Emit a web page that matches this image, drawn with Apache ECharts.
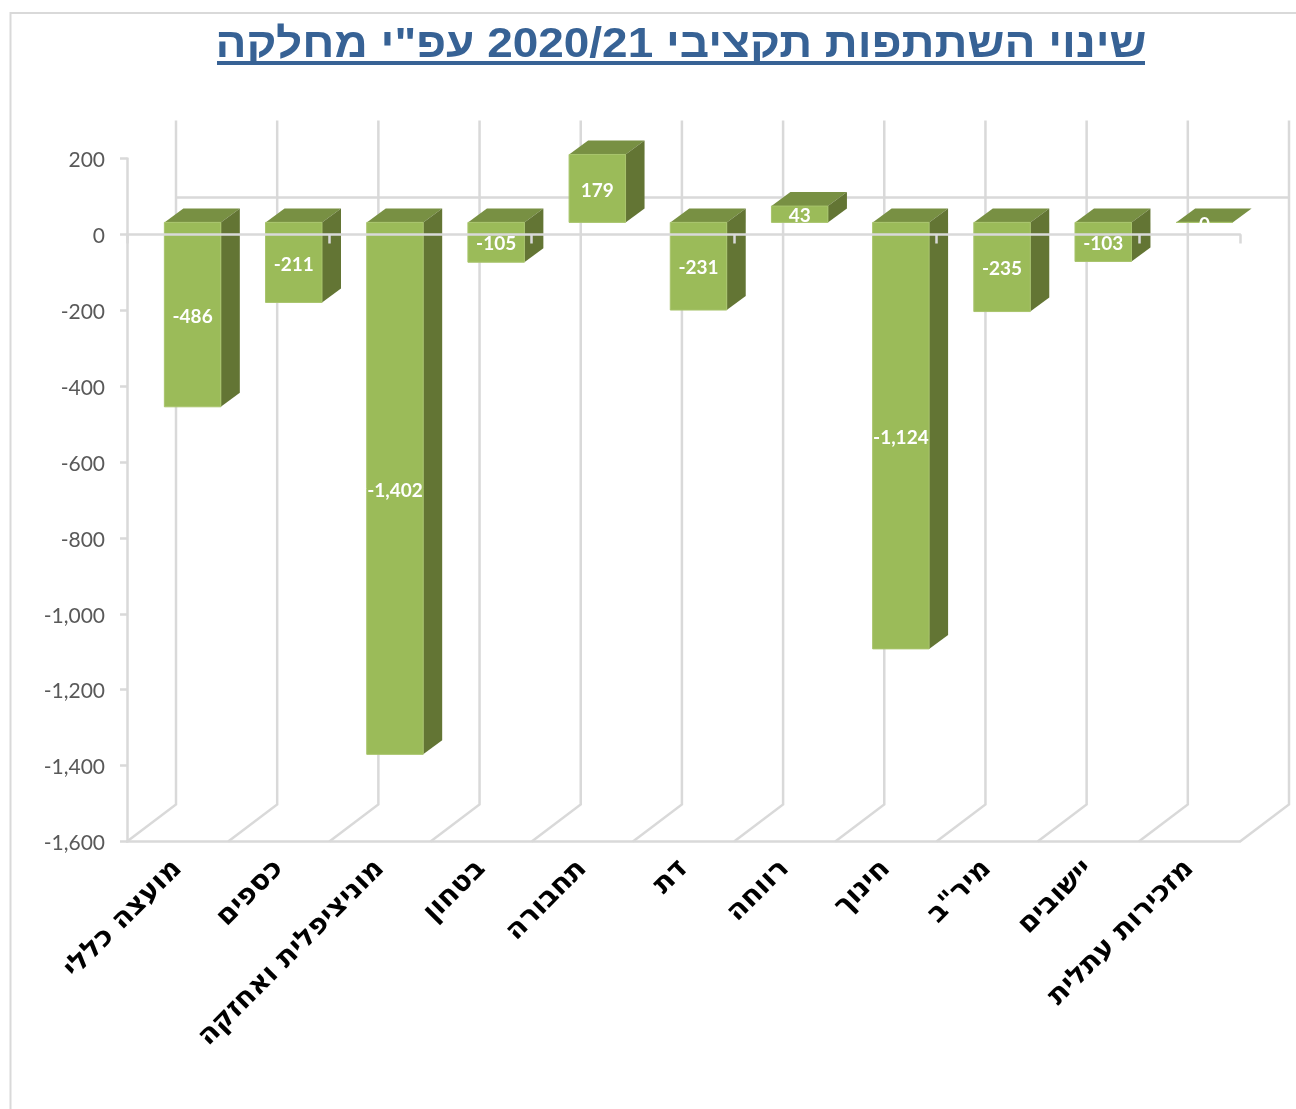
<!DOCTYPE html>
<html>
<head>
<meta charset="utf-8">
<title>chart</title>
<script src="https://cdn.jsdelivr.net/npm/echarts@6/dist/echarts.min.js"></script>
<style>
  html, body { margin: 0; background: #fff; overflow: hidden; }
  #main { width: 1296px; height: 1109px; }
</style>
</head>
<body>
<div id="main"></div>
<script>
const titleText = 'שינוי השתתפות תקציבי 2020/21 עפ"י מחלקה';
const categories = ['מועצה כללי', 'כספים', 'מוניציפלית ואחזקה', 'בטחון', 'תחבורה', 'דת', 'רווחה', 'חינוך', 'מיר"ב', 'יישובים', 'מזכירות עתלית'];
const values = [-486, -211, -1402, -105, 179, -231, 43, -1124, -235, -103, 0];
const yTicks = { min: -1600, max: 200, interval: 200 };

const GRID_COLOR = '#D9D9D9';
const GRID_WIDTH = 2.5;
// depth of the fake 3d box, in px
const WALL_DX = 49, WALL_DY = -37;
const BAR_FRONT_DX = 15, BAR_FRONT_DY = -12;
const BAR_SIDE_DX = 19, BAR_SIDE_DY = -14;

function poly(points, fill) {
    return { type: 'polygon', shape: { points: points }, style: { fill: fill } };
}
function wallLine(x, yTop, yBottom) {
    return {
        type: 'polyline',
        shape: { points: [[x + WALL_DX, yTop + WALL_DY - 1], [x + WALL_DX, yBottom + WALL_DY], [x, yBottom]] },
        style: { stroke: GRID_COLOR, lineWidth: GRID_WIDTH, fill: null }
    };
}

function renderWall(params, api) {
    const i = api.value(0);
    const band = api.size([1, 0])[0];
    const yTop = api.coord([i, yTicks.max])[1];
    const yBottom = api.coord([i, yTicks.min])[1];
    const yZero = api.coord([i, 0])[1];
    const x = api.coord([i, 0])[0] - band / 2;
    const children = [wallLine(x, yTop, yBottom)];
    if (i === categories.length - 1) {
        children.push(wallLine(x + band, yTop, yBottom));
    }
    // floor line on the back wall at zero
    children.push({
        type: 'line',
        shape: { x1: x + WALL_DX, y1: yZero + WALL_DY, x2: x + band + WALL_DX, y2: yZero + WALL_DY },
        style: { stroke: GRID_COLOR, lineWidth: GRID_WIDTH }
    });
    return { type: 'group', children: children };
}

function renderBar(params, api) {
    const i = api.value(0);
    const v = api.value(1);
    const band = api.size([1, 0])[0];
    const w = band * 0.558;
    const cx = api.coord([i, 0])[0] + BAR_FRONT_DX;
    const yA = api.coord([i, Math.max(v, 0)])[1] + BAR_FRONT_DY;
    const yB = api.coord([i, Math.min(v, 0)])[1] + BAR_FRONT_DY;
    const x1 = cx - w / 2, x2 = cx + w / 2;
    const dx = BAR_SIDE_DX, dy = BAR_SIDE_DY;
    const front = poly([[x1, yA], [x2, yA], [x2, yB], [x1, yB]], '#9BBB59');
    front.style.stroke = '#A8C46C';
    front.style.lineWidth = 1;
    return {
        type: 'group',
        children: [
            poly([[x1, yA], [x2, yA], [x2 + dx, yA + dy], [x1 + dx, yA + dy]], '#789043'),
            poly([[x2, yA], [x2 + dx, yA + dy], [x2 + dx, yB + dy], [x2, yB]], '#637534'),
            front,
            {
                type: 'text',
                style: {
                    x: cx, y: (yA + yB) / 2 + 2,
                    text: v.toLocaleString('en-US'),
                    fill: '#fff',
                    font: 'bold 19px Lato',
                    align: 'center', verticalAlign: 'middle'
                }
            }
        ]
    };
}

const chart = echarts.init(document.getElementById('main'));
const points = values.map((v, i) => [i, v]);

chart.setOption({
    animation: false,
    backgroundColor: '#fff',
    graphic: [
        { type: 'rect', shape: { x: 10.5, y: 13, width: 1400, height: 1200 }, style: { fill: null, stroke: GRID_COLOR, lineWidth: 2 }, z: -1 },
        {
            type: 'text', x: 681, y: 45, scaleX: 1.093,
            style: {
                // embedding marks keep the number inside the hebrew run
                text: '\u202B' + titleText + '\u202C',
                font: 'bold 42px "Liberation Sans"', fill: '#376295',
                align: 'center', verticalAlign: 'middle'
            }
        },
        { type: 'line', shape: { x1: 217, y1: 63, x2: 1145, y2: 63 }, style: { stroke: '#376295', lineWidth: 4 } }
    ],
    grid: { left: 127, right: 56, top: 158.5, bottom: 267.5 },
    xAxis: [
        {
            type: 'category', data: categories, position: 'bottom',
            axisLine: { onZero: false, lineStyle: { color: GRID_COLOR, width: GRID_WIDTH } },
            axisTick: { show: false },
            axisLabel: {
                interval: 0, rotate: 45, margin: 23,
                fontFamily: 'DejaVu Sans', fontWeight: 'bold', fontSize: 28, color: '#000'
            }
        },
        {
            // zero line with the ticks, the labels stay at the bottom
            type: 'category', data: categories, position: 'bottom', z: 5,
            axisLine: { onZero: true, lineStyle: { color: GRID_COLOR, width: GRID_WIDTH } },
            axisTick: { show: true, length: 9, lineStyle: { color: GRID_COLOR, width: GRID_WIDTH } },
            axisLabel: { show: false }
        }
    ],
    yAxis: {
        type: 'value', min: yTicks.min, max: yTicks.max, interval: yTicks.interval,
        axisLine: { show: true, lineStyle: { color: GRID_COLOR, width: GRID_WIDTH } },
        axisTick: { show: true, length: 7, lineStyle: { color: GRID_COLOR, width: GRID_WIDTH } },
        splitLine: { show: false },
        axisLabel: {
            // short line box on 'top' sets the text just under the tick
            margin: 22, verticalAlign: 'top', lineHeight: 4, fontFamily: 'Lato', fontSize: 21, color: '#595959',
            formatter: (v) => v.toLocaleString('en-US')
        }
    },
    series: [
        { type: 'custom', name: 'walls', renderItem: renderWall, data: points, z: 1, silent: true },
        { type: 'custom', name: 'bars', renderItem: renderBar, data: points, z: 2 }
    ]
});
</script>
</body>
</html>
